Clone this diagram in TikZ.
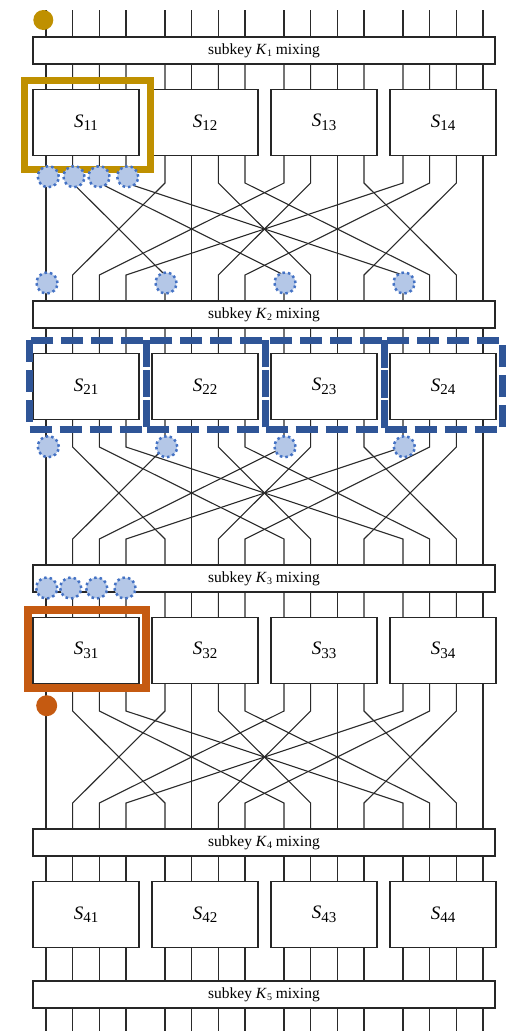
\documentclass[tikz,border=0pt]{standalone}
\usepackage{fontspec}
\setmainfont{Liberation Serif}
\definecolor{wirec}{HTML}{2A2A2A}
\definecolor{boxc}{HTML}{262626}
\definecolor{goldc}{HTML}{BF9000}
\definecolor{orangec}{HTML}{C55A11}
\definecolor{lblue}{HTML}{B4C7E7}
\definecolor{dblue}{HTML}{4472C4}
\definecolor{dashc}{HTML}{2F5597}
\newcommand{\slabel}[1]{{\fontsize{19}{19}\selectfont\itshape S}{\fontsize{15}{15}\selectfont\raisebox{-3.5pt}{#1}}}
\newcommand{\klabel}[1]{subkey \textit{K}{\fontsize{10}{10}\selectfont\raisebox{-2.5pt}{#1}} mixing}
\begin{document}
\begin{tikzpicture}[x=1pt,y=-1pt,
  wire/.style={draw=wirec, line width=1.1pt},
  sbox/.style={draw=boxc, fill=white, line width=1.3pt, minimum width=106pt, minimum height=66pt, inner sep=0pt, outer sep=0pt},
  mixbox/.style={draw=boxc, fill=white, line width=1.3pt, minimum width=462pt, minimum height=27pt, inner sep=0pt, outer sep=0pt, font=\fontsize{15.5}{16}\selectfont},
  bdot/.style={circle, fill=lblue, draw=dblue, line width=2.5pt, dash pattern=on 2.5pt off 3pt, minimum size=21pt, inner sep=0pt},
  goldframe/.style={draw=goldc, line width=7pt},
  orangeframe/.style={draw=orangec, line width=8pt},
  dashframe/.style={draw=dashc, line width=7pt, dash pattern=on 22pt off 8pt},
  golddot/.style={circle, fill=goldc, minimum size=20pt, inner sep=0pt},
  orangedot/.style={circle, fill=orangec, minimum size=21pt, inner sep=0pt}]
\useasboundingbox (0,0) rectangle (506,1031);
% wires
\foreach \i in {0,...,3}{
  \foreach \j in {0,...,3}{
    \pgfmathsetmacro\xa{86+119*\i+26.6667*(\j-1.5)}
    \coordinate (top\i\j) at (\xa,10);
    \coordinate (bot\i\j) at (\xa,1031);
    \draw[wire] (top\i\j) -- (\xa,37);
    \draw[wire] (\xa,829) -- (bot\i\j);
  }
}
\foreach \r in {0,1,2}{
  \pgfmathsetmacro\T{37+264*\r}
  \foreach \i in {0,...,3}{
    \foreach \j in {0,...,3}{
      \pgfmathsetmacro\xa{86+119*\i+26.6667*(\j-1.5)}
      \pgfmathsetmacro\xb{86+119*\j+26.6667*(\i-1.5)}
      \draw[wire] (\xa,\T) -- (\xa,\T+146) -- (\xb,\T+238) -- (\xb,\T+264);
    }
  }
}
% mixing boxes
\foreach \y/\k in {50.5/1, 314.5/2, 578.5/3, 842.5/4, 994.5/5}{
  \node[mixbox] (K\k) at (264,\y) {\klabel{\k}};
}
% S-boxes
\foreach \y [count=\r] in {122.5, 386.5, 650.5, 914.5}{
  \foreach \i in {1,...,4}{
    \pgfmathsetmacro\xc{86+119*(\i-1)}
    \node[sbox] (S\r\i) at (\xc,\y) {\slabel{\r\i}};
  }
}
% highlights round 1
\node[golddot] (g1) at (43.3,20) {};
\draw[goldframe] (24.5,80) rectangle (150.3,169.7);
\foreach \x [count=\n] in {48.3, 74, 99, 127.7}{
  \node[bdot] (ba\n) at (\x,176.7) {};
}
\foreach \x [count=\n] in {47, 166, 285, 404}{
  \node[bdot] (bb\n) at (\x,283) {};
}
% round 2 dashed frames
\foreach \xl/\xr in {29/146.7, 146.7/265, 265/384, 384/502}{
  \draw[dashframe] (\xl,340) rectangle (\xr,429.5);
}
\foreach \x [count=\n] in {48.3, 166.7, 285, 404.3}{
  \node[bdot] (bc\n) at (\x,446.7) {};
}
% round 3
\foreach \x [count=\n] in {46.7, 70.7, 96.7, 125}{
  \node[bdot] (bd\n) at (\x,588) {};
}
\draw[orangeframe] (28,610) rectangle (146,687.5);
\node[orangedot] (o1) at (46.7,705.7) {};
\end{tikzpicture}
\end{document}
